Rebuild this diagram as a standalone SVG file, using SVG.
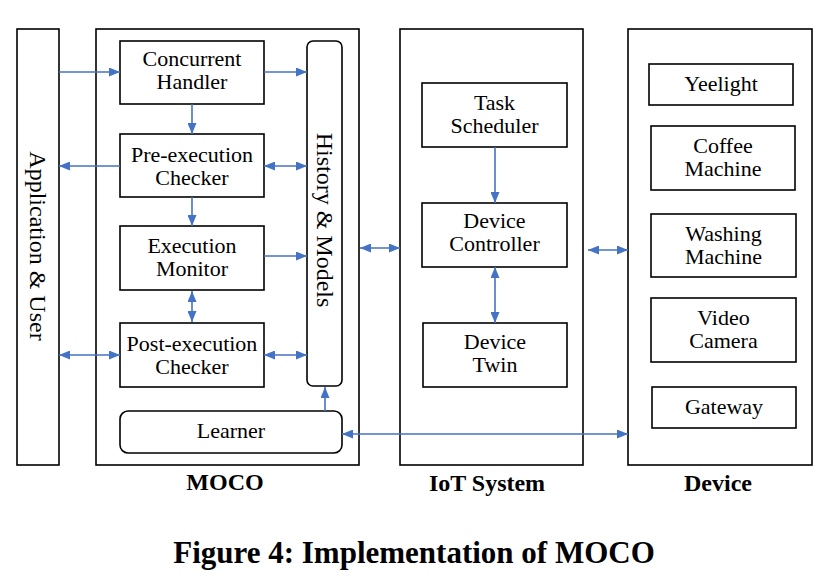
<svg xmlns="http://www.w3.org/2000/svg" width="829" height="586" viewBox="0 0 829 586">
<style>
.box{fill:#fff;stroke:#000;stroke-width:1.6}
.nt{font-family:"Liberation Serif","Times New Roman",serif;font-size:22px;fill:#000;text-anchor:middle}
.rt{font-family:"Liberation Serif","Times New Roman",serif;font-size:24px;fill:#000;text-anchor:middle}
.lbl{font-family:"Liberation Serif","Times New Roman",serif;font-size:24px;font-weight:bold;fill:#000;text-anchor:middle}
.cap{font-family:"Liberation Serif","Times New Roman",serif;font-size:31px;font-weight:bold;fill:#000;text-anchor:middle}
.c{fill:none;stroke:#4472C4;stroke-width:1.6}
</style>
<defs>
<marker id="ah" markerUnits="userSpaceOnUse" markerWidth="11" markerHeight="9" refX="11" refY="4.5" orient="auto-start-reverse" viewBox="0 0 11 9">
<path d="M0,0 L11,4.5 L0,9 z" fill="#4472C4"/>
</marker>
</defs>
<rect width="829" height="586" fill="#fff"/>

<g id="app">
<rect class="box" x="17" y="29" width="42" height="436"/>
<text class="rt" transform="translate(38,246) rotate(90)" x="0" y="8">Application &amp; User</text>
</g>
<g id="moco">
<rect class="box" x="96" y="29" width="263" height="436"/>
<text class="lbl" x="225" y="490">MOCO</text>
</g>
<g id="iot">
<rect class="box" x="400" y="29" width="183" height="436"/>
<text class="lbl" x="487" y="491">IoT System</text>
</g>
<g id="device">
<rect class="box" x="628" y="29" width="184" height="436"/>
<text class="lbl" x="718" y="491">Device</text>
</g>

<g id="concurrent">
<rect class="box" x="120" y="41" width="144" height="63"/>
<text class="nt" x="192" y="66">Concurrent<tspan x="192" dy="23">Handler</tspan></text>
</g>
<g id="pre">
<rect class="box" x="120" y="134" width="144" height="63"/>
<text class="nt" x="192" y="162">Pre-execution<tspan x="192" dy="23">Checker</tspan></text>
</g>
<g id="exec">
<rect class="box" x="120" y="226" width="144" height="64"/>
<text class="nt" x="192" y="253">Execution<tspan x="192" dy="23">Monitor</tspan></text>
</g>
<g id="post">
<rect class="box" x="120" y="323" width="144" height="64"/>
<text class="nt" x="192" y="351">Post-execution<tspan x="192" dy="23">Checker</tspan></text>
</g>
<g id="history">
<rect class="box" x="307" y="41" width="35" height="345" rx="6"/>
<text class="rt" transform="translate(325,220) rotate(90)" x="0" y="8">History &amp; Models</text>
</g>
<g id="learner">
<rect class="box" x="120" y="411" width="222" height="42" rx="8"/>
<text class="nt" x="231" y="438">Learner</text>
</g>

<g id="task">
<rect class="box" x="422" y="83" width="145" height="64"/>
<text class="nt" x="494.5" y="110">Task<tspan x="494.5" dy="23">Scheduler</tspan></text>
</g>
<g id="controller">
<rect class="box" x="422" y="203" width="145" height="64"/>
<text class="nt" x="494.5" y="228">Device<tspan x="494.5" dy="23">Controller</tspan></text>
</g>
<g id="twin">
<rect class="box" x="423" y="323" width="144" height="64"/>
<text class="nt" x="495" y="349">Device<tspan x="495" dy="23">Twin</tspan></text>
</g>

<g id="yeelight">
<rect class="box" x="649" y="64" width="144" height="41"/>
<text class="nt" x="721" y="91">Yeelight</text>
</g>
<g id="coffee">
<rect class="box" x="651" y="126" width="144" height="64"/>
<text class="nt" x="723" y="153">Coffee<tspan x="723" dy="23">Machine</tspan></text>
</g>
<g id="washing">
<rect class="box" x="651" y="214" width="145" height="63"/>
<text class="nt" x="723.5" y="241">Washing<tspan x="723.5" dy="23">Machine</tspan></text>
</g>
<g id="camera">
<rect class="box" x="651" y="298" width="145" height="64"/>
<text class="nt" x="723.5" y="325">Video<tspan x="723.5" dy="23">Camera</tspan></text>
</g>
<g id="gateway">
<rect class="box" x="652" y="387" width="144" height="41"/>
<text class="nt" x="724" y="414">Gateway</text>
</g>

<g id="connectors">
<line class="c" x1="59" y1="72" x2="120" y2="72" marker-end="url(#ah)"/>
<line class="c" x1="264" y1="72" x2="307" y2="72" marker-end="url(#ah)"/>
<line class="c" x1="192" y1="104" x2="192" y2="134" marker-end="url(#ah)"/>
<line class="c" x1="120" y1="166" x2="59" y2="166" marker-end="url(#ah)"/>
<line class="c" x1="264" y1="166" x2="307" y2="166" marker-start="url(#ah)" marker-end="url(#ah)"/>
<line class="c" x1="192" y1="197" x2="192" y2="226" marker-end="url(#ah)"/>
<line class="c" x1="264" y1="256" x2="307" y2="256" marker-end="url(#ah)"/>
<line class="c" x1="192" y1="291" x2="192" y2="322" marker-start="url(#ah)" marker-end="url(#ah)"/>
<line class="c" x1="59" y1="355" x2="120" y2="355" marker-start="url(#ah)" marker-end="url(#ah)"/>
<line class="c" x1="264" y1="355" x2="307" y2="355" marker-start="url(#ah)" marker-end="url(#ah)"/>
<line class="c" x1="325" y1="411" x2="325" y2="387" marker-end="url(#ah)"/>
<line class="c" x1="342" y1="434" x2="628" y2="434" marker-start="url(#ah)" marker-end="url(#ah)"/>
<line class="c" x1="360" y1="248" x2="400" y2="248" marker-start="url(#ah)" marker-end="url(#ah)"/>
<line class="c" x1="588" y1="250" x2="628" y2="250" marker-start="url(#ah)" marker-end="url(#ah)"/>
<line class="c" x1="495" y1="147" x2="495" y2="203" marker-end="url(#ah)"/>
<line class="c" x1="495" y1="267" x2="495" y2="323" marker-start="url(#ah)" marker-end="url(#ah)"/>
</g>

<text class="cap" x="414" y="563">Figure 4: Implementation of MOCO</text>
</svg>
